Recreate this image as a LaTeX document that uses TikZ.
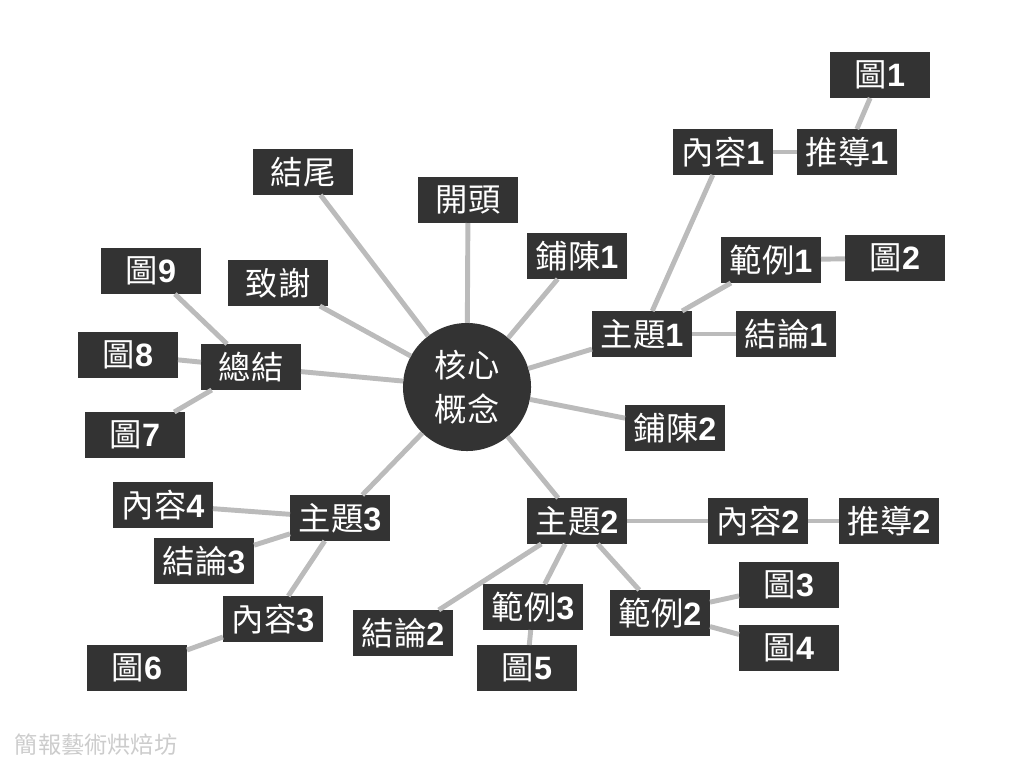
\documentclass[tikz,border=0pt]{standalone}
\usepackage{fontspec}
\newfontfamily\cjk{Noto Sans CJK TC}
\newfontfamily\digits{Liberation Sans}
\newcommand{\dg}[1]{{\digits\bfseries #1}}
\definecolor{boxfill}{HTML}{333333}
\definecolor{linegray}{HTML}{BBBBBB}
\definecolor{markgray}{HTML}{CCCCCC}

\begin{document}
\begin{tikzpicture}[x=0.025cm, y=-0.025cm,
  box/.style={fill=boxfill, text=white, minimum width=2.5cm, minimum height=1.15cm,
    inner sep=0pt, outer sep=0pt, font=\cjk\fontsize{23}{26}\selectfont},
  hub/.style={circle, fill=boxfill, text=white, minimum size=3.2cm, inner sep=0pt,
    outer sep=0pt, align=center, font=\cjk\fontsize{23}{31}\selectfont},
  link/.style={draw=linegray, line width=3.5pt}]
  \useasboundingbox (0,0) rectangle (1024,768);
  % centre
  \node[hub] (core) at (467,387) {核心\\概念};
  \node[box] (end) at (303,172) {結尾};
  \node[box] (open) at (468,200) {開頭};
  \node[box] (lay1) at (577,256) {鋪陳\dg{1}};
  \node[box] (lay2) at (675,428) {鋪陳\dg{2}};
  \node[box] (thx) at (278,283) {致謝};
  \node[box] (sum) at (251,367) {總結};
  % topic 1
  \node[box] (t1) at (642,334) {主題\dg{1}};
  \node[box] (c1) at (723,152) {內容\dg{1}};
  \node[box] (d1) at (847,152) {推導\dg{1}};
  \node[box] (f1) at (880,75) {圖\dg{1}};
  \node[box] (e1) at (771,260) {範例\dg{1}};
  \node[box] (f2) at (895,258) {圖\dg{2}};
  \node[box] (r1) at (786,334) {結論\dg{1}};
  % topic 2
  \node[box] (t2) at (577,521) {主題\dg{2}};
  \node[box] (c2) at (758,521) {內容\dg{2}};
  \node[box] (d2) at (889,521) {推導\dg{2}};
  \node[box] (e2) at (660,613) {範例\dg{2}};
  \node[box] (f3) at (789,585) {圖\dg{3}};
  \node[box] (f4) at (789,648) {圖\dg{4}};
  \node[box] (e3) at (533,607) {範例\dg{3}};
  \node[box] (f5) at (527,668) {圖\dg{5}};
  \node[box] (r2) at (403,633) {結論\dg{2}};
  % topic 3
  \node[box] (t3) at (340,518) {主題\dg{3}};
  \node[box] (c4) at (163,505) {內容\dg{4}};
  \node[box] (r3) at (204,561) {結論\dg{3}};
  \node[box] (c3) at (273,619) {內容\dg{3}};
  \node[box] (f6) at (137,668) {圖\dg{6}};
  % summary
  \node[box] (f9) at (151,271) {圖\dg{9}};
  \node[box] (f8) at (128,355) {圖\dg{8}};
  \node[box] (f7) at (135,435) {圖\dg{7}};
  \node[anchor=west, text=markgray, font=\cjk\fontsize{16.5}{16.5}\selectfont] (credit) at (10,745) {簡報藝術烘焙坊};

  \draw[link] (core) -- (end);
  \draw[link] (core) -- (open);
  \draw[link] (core) -- (lay1);
  \draw[link] (core) -- (lay2);
  \draw[link] (core) -- (thx);
  \draw[link] (core) -- (sum);
  \draw[link] (core) -- (t1);
  \draw[link] (core) -- (t2);
  \draw[link] (core) -- (t3);
  \draw[link] (t1) -- (c1);
  \draw[link] (c1) -- (d1);
  \draw[link] (d1) -- (f1);
  \draw[link] (t1) -- (e1);
  \draw[link] (e1) -- (f2);
  \draw[link] (t1) -- (r1);
  \draw[link] (t2) -- (c2);
  \draw[link] (c2) -- (d2);
  \draw[link] (t2) -- (e2);
  \draw[link] (e2) -- (f3);
  \draw[link] (e2) -- (f4);
  \draw[link] (t2) -- (e3);
  \draw[link] (e3) -- (f5);
  \draw[link] (t2) -- (r2);
  \draw[link] (t3) -- (c4);
  \draw[link] (t3) -- (r3);
  \draw[link] (t3) -- (c3);
  \draw[link] (c3) -- (f6);
  \draw[link] (sum) -- (f9);
  \draw[link] (sum) -- (f8);
  \draw[link] (sum) -- (f7);
\end{tikzpicture}
\end{document}
